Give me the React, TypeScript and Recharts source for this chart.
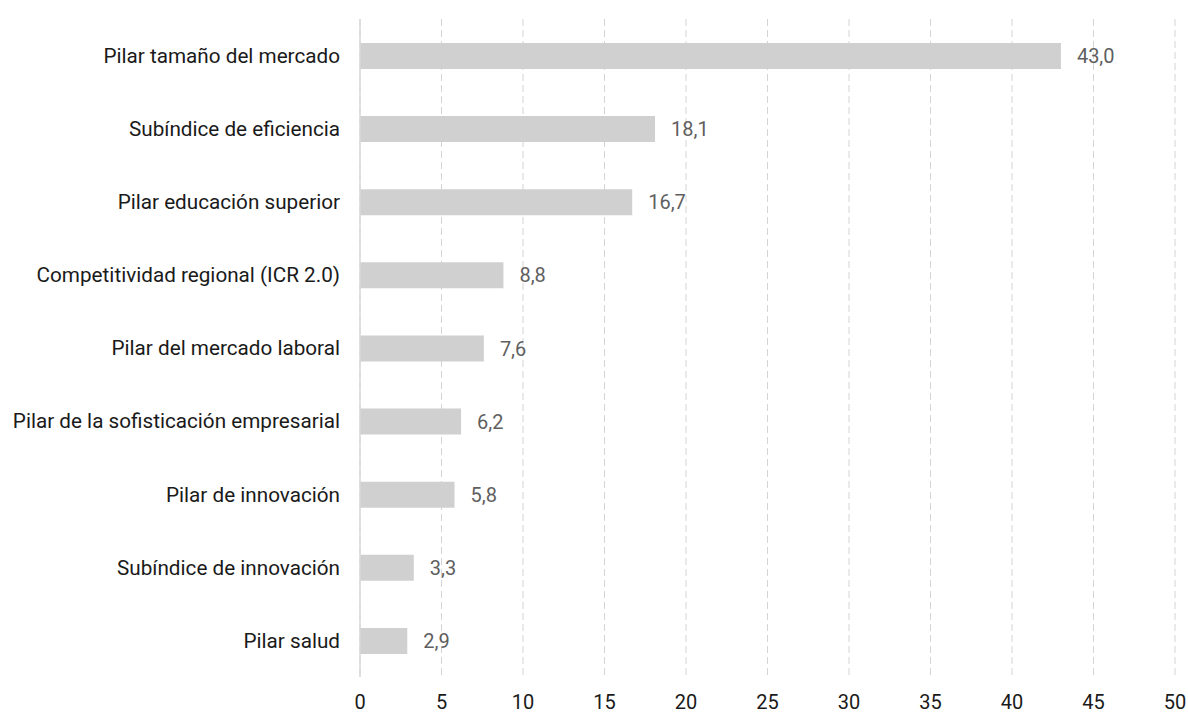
import { BarChart, Bar, XAxis, YAxis, CartesianGrid, LabelList } from "recharts";

const categories = [
  "Pilar tamaño del mercado",
  "Subíndice de eficiencia",
  "Pilar educación superior",
  "Competitividad regional (ICR 2.0)",
  "Pilar del mercado laboral",
  "Pilar de la sofisticación empresarial",
  "Pilar de innovación",
  "Subíndice de innovación",
  "Pilar salud",
];

const values = [43.0, 18.1, 16.7, 8.8, 7.6, 6.2, 5.8, 3.3, 2.9];

const xTicks = [0, 5, 10, 15, 20, 25, 30, 35, 40, 45, 50];

const FONT = "Roboto, 'Noto Sans', sans-serif";

const data = categories.map((name, i) => ({ name, value: values[i] }));

// coma decimal, como en el original
const fmt = (v: unknown) => Number(v).toFixed(1).replace(".", ",");

export default function App() {
  return (
    <div style={{ width: 1188, height: 713 }}>
      <style>{`body { margin: 0; }`}</style>
      <BarChart
        width={1188}
        height={713}
        data={data}
        layout="vertical"
        margin={{ top: 19, right: 13, left: 0, bottom: 0 }}
        style={{ fontFamily: FONT }}
      >
        <CartesianGrid
          horizontal={false}
          stroke="#d4d4d4"
          strokeDasharray="7 4"
        />
        <XAxis
          type="number"
          domain={[0, 50]}
          ticks={xTicks}
          axisLine={false}
          tickLine={false}
          tickSize={0}
          tickMargin={18}
          height={36}
          tick={{ fill: "#1a1a1a", fontSize: 20, fontFamily: FONT }}
        />
        <YAxis
          type="category"
          dataKey="name"
          width={360}
          axisLine={{ stroke: "#d9d9d9", strokeWidth: 1.5 }}
          tickLine={false}
          tickSize={0}
          tickMargin={20}
          interval={0}
          tick={{ fill: "#1a1a1a", fontSize: 20.7, fontFamily: FONT }}
        />
        <Bar dataKey="value" fill="#d0d0d0" barSize={26} isAnimationActive={false}>
          <LabelList
            dataKey="value"
            position="right"
            offset={16}
            formatter={fmt}
            style={{ fill: "#5f5f5f", fontSize: 20, fontFamily: FONT }}
          />
        </Bar>
      </BarChart>
    </div>
  );
}
